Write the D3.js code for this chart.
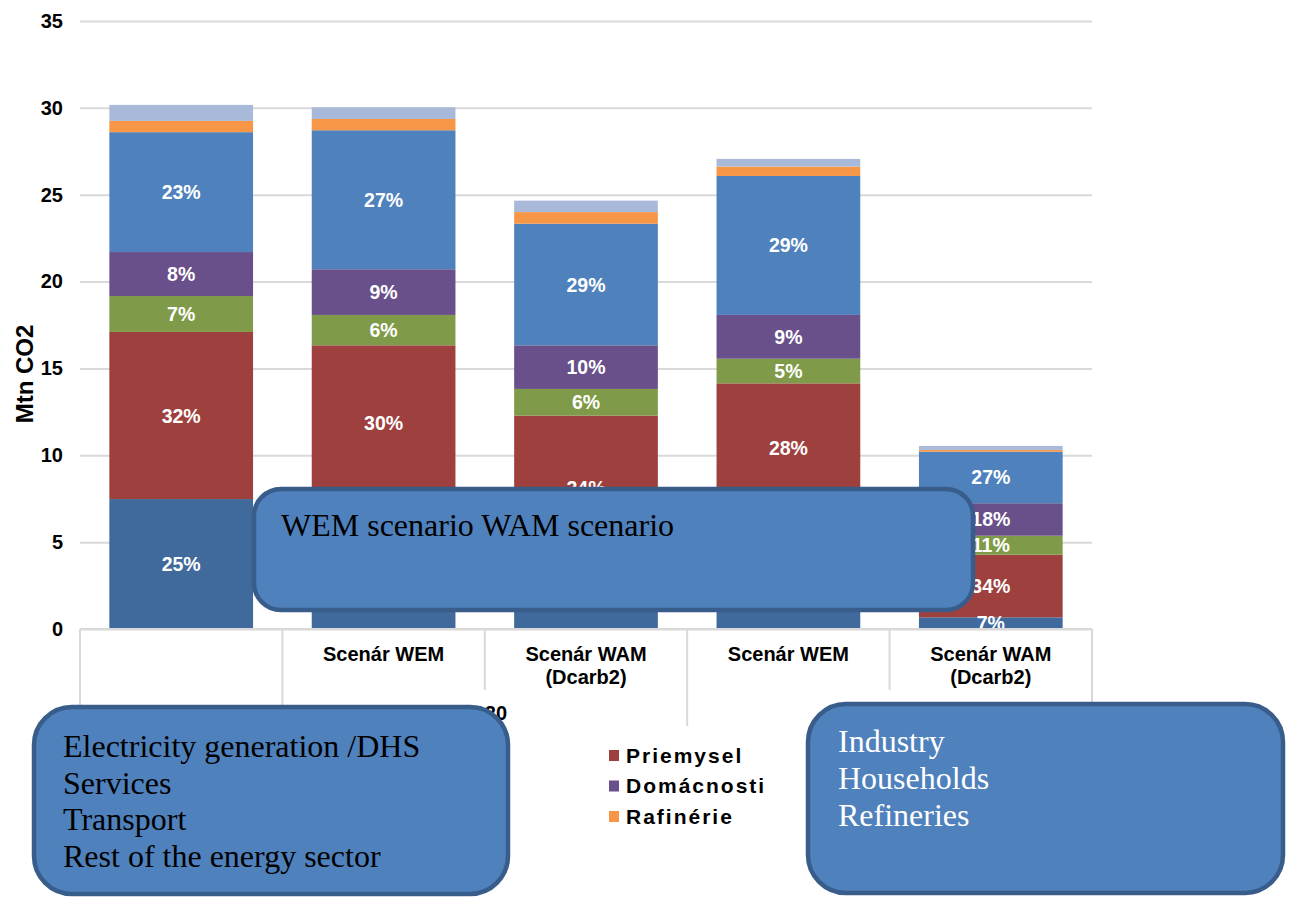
<!DOCTYPE html>
<html>
<head>
<meta charset="utf-8">
<script src="https://cdn.jsdelivr.net/npm/d3@7"></script>
<style>
  body { margin: 0; background: #fff; }
  svg { display: block; }
</style>
</head>
<body>
<div id="chart"></div>
<script>
// Categories (level 1) and year groups (level 2)
var categories = ["", "Scenár WEM", "Scenár WAM (Dcarb2)", "Scenár WEM", "Scenár WAM (Dcarb2)"];
var categoryLines = [[""], ["Scenár WEM"], ["Scenár WAM", "(Dcarb2)"], ["Scenár WEM"], ["Scenár WAM", "(Dcarb2)"]];
var groupLabels = ["2010", "2020", "2030"];
var groupFirst = [0, 1, 3];
var groupLast = [0, 2, 4];

var yTicks = [0, 5, 10, 15, 20, 25, 30, 35];

// Series, stacked bottom to top (Mtn CO2)
var seriesNames = ["Výroba elektriny a tepla", "Priemysel", "Služby", "Domácnosti", "Doprava", "Rafinérie", "Ostatná energetika"];
var elektrina  = [7.48, 7.39, 4.00, 6.66, 0.67];
var priemysel  = [9.62, 8.94, 8.28, 7.48, 3.61];
var sluzby     = [2.07, 1.75, 1.54, 1.42, 1.09];
var domacnosti = [2.53, 2.63, 2.51, 2.52, 1.87];
var doprava    = [6.90, 8.00, 7.00, 8.00, 2.97];
var rafinerie  = [0.65, 0.65, 0.67, 0.54, 0.10];
var ostatne    = [0.92, 0.67, 0.66, 0.44, 0.23];

// Share labels as printed on the bars (null = no label)
var elektrinaLbl  = ["25%", "25%", "16%", "25%", "7%"];
var priemyselLbl  = ["32%", "30%", "24%", "28%", "34%"];
var sluzbyLbl     = ["7%", "6%", "6%", "5%", "11%"];
var domacnostiLbl = ["8%", "9%", "10%", "9%", "18%"];
var dopravaLbl    = ["23%", "27%", "29%", "29%", "27%"];

// legend entries that are visible (the other column lies under the text box)
var legendShown = [1, 3, 5];

// Overlay text boxes
var boxTop = ["WEM scenario WAM scenario"];
var boxLeft = ["Electricity generation /DHS", "Services", "Transport", "Rest of the energy sector"];
var boxRight = ["Industry", "Households", "Refineries"];

(function () {
    var seriesValues = [elektrina, priemysel, sluzby, domacnosti, doprava, rafinerie, ostatne];
    var seriesLabels = [elektrinaLbl, priemyselLbl, sluzbyLbl, domacnostiLbl, dopravaLbl, null, null];
    var colors = ["#40699C", "#9E403E", "#7F9A48", "#69508A", "#4F81BD", "#F79646", "#A8B9D9"];

    var W = 1291, H = 898;
    var pLeft = 80, pRight = 1092, pTop = 21, pBottom = 629;
    var sans = "'Liberation Sans', Arial, sans-serif";
    var serif = "'Liberation Serif', 'Times New Roman', serif";

    var svg = d3.select("#chart").append("svg")
        .attr("width", W)
        .attr("height", H);

    var x = d3.scaleBand()
        .domain(d3.range(categories.length))
        .range([pLeft, pRight])
        .paddingInner(0.29)
        .paddingOuter(0.145);

    var y = d3.scaleLinear()
        .domain([0, 35])
        .range([pBottom, pTop]);

    // y axis with gridlines
    var yAxis = svg.append("g")
        .attr("transform", "translate(" + pLeft + ",0)")
        .call(d3.axisLeft(y).tickValues(yTicks).tickSizeInner(-(pRight - pLeft)).tickSizeOuter(0).tickPadding(17));
    yAxis.select(".domain").remove();
    yAxis.selectAll("line").attr("stroke", "#D9D9D9").attr("stroke-width", 2);
    yAxis.selectAll("text")
        .attr("font-family", sans)
        .attr("font-size", "20px")
        .attr("font-weight", "bold")
        .attr("fill", "#000");

    svg.append("text")
        .attr("transform", "translate(33,374) rotate(-90)")
        .attr("text-anchor", "middle")
        .attr("font-family", sans)
        .attr("font-size", "24px")
        .attr("font-weight", "bold")
        .text("Mtn CO2");

    // stacked bars
    var rows = categories.map(function (c, i) {
        var r = { i: i };
        seriesValues.forEach(function (s, k) { r[k] = s[i]; });
        return r;
    });
    var layers = d3.stack().keys(d3.range(seriesValues.length))(rows);

    svg.append("clipPath").attr("id", "plotclip")
        .append("rect")
        .attr("x", pLeft).attr("y", 0)
        .attr("width", pRight - pLeft).attr("height", pBottom);

    var plot = svg.append("g").attr("clip-path", "url(#plotclip)");

    var layerG = plot.selectAll("g.layer").data(layers).enter().append("g")
        .attr("class", "layer")
        .attr("fill", function (d, k) { return colors[k]; });

    layerG.selectAll("rect").data(function (d) { return d; }).enter().append("rect")
        .attr("x", function (d) { return x(d.data.i); })
        .attr("width", x.bandwidth())
        .attr("y", function (d) { return y(d[1]); })
        .attr("height", function (d) { return y(d[0]) - y(d[1]); });

    layers.forEach(function (layer, k) {
        var lbl = seriesLabels[k];
        if (!lbl) return;
        plot.append("g").selectAll("text").data(layer).enter().append("text")
            .attr("x", function (d) { return x(d.data.i) + x.bandwidth() / 2; })
            .attr("y", function (d) { return (y(d[0]) + y(d[1])) / 2; })
            .attr("dy", "0.36em")
            .attr("text-anchor", "middle")
            .attr("font-family", sans)
            .attr("font-size", "19.5px")
            .attr("font-weight", "bold")
            .attr("fill", "#fff")
            .text(function (d) { return lbl[d.data.i]; });
    });

    // multi-level category axis
    var axisG = svg.append("g").attr("stroke", "#D9D9D9").attr("stroke-width", 2);
    axisG.append("line").attr("x1", pLeft).attr("x2", pRight).attr("y1", pBottom).attr("y2", pBottom);
    var step = x.step();
    d3.range(categories.length + 1).forEach(function (b) {
        var bx = pLeft + b * step;
        var isGroupEdge = groupFirst.indexOf(b) >= 0 || b === categories.length;
        axisG.append("line")
            .attr("x1", bx).attr("x2", bx)
            .attr("y1", pBottom).attr("y2", isGroupEdge ? 726 : 690);
    });

    categoryLines.forEach(function (lines, i) {
        lines.forEach(function (ln, j) {
            svg.append("text")
                .attr("x", x(i) + x.bandwidth() / 2)
                .attr("y", 661 + j * 23)
                .attr("text-anchor", "middle")
                .attr("font-family", sans)
                .attr("font-size", "20px")
                .attr("font-weight", "bold")
                .text(ln);
        });
    });

    groupLabels.forEach(function (g, k) {
        var gx = (x(groupFirst[k]) + x(groupLast[k]) + x.bandwidth()) / 2;
        svg.append("text")
            .attr("x", gx)
            .attr("y", 720)
            .attr("text-anchor", "middle")
            .attr("font-family", sans)
            .attr("font-size", "20px")
            .attr("font-weight", "bold")
            .text(g);
    });

    // legend (right column)
    var legend = svg.append("g");
    legendShown.forEach(function (k, row) {
        var lx = 609;
        var ly = 755 + row * 30.5;
        legend.append("rect")
            .attr("x", lx).attr("y", ly - 5)
            .attr("width", 10).attr("height", 11)
            .attr("fill", colors[k]);
        legend.append("text")
            .attr("x", lx + 17).attr("y", ly)
            .attr("dy", "0.36em")
            .attr("font-family", sans)
            .attr("font-size", "21px")
            .attr("font-weight", "bold")
            .attr("letter-spacing", "2px")
            .text(seriesNames[k]);
    });

    // overlay text boxes
    function textBox(bx, by, bw, bh, r, lines, tx, ty, lh, color) {
        var g = svg.append("g");
        g.append("rect")
            .attr("x", bx).attr("y", by)
            .attr("width", bw).attr("height", bh)
            .attr("rx", r).attr("ry", r)
            .attr("fill", "#4F81BD")
            .attr("stroke", "#385D8A")
            .attr("stroke-width", 4.5);
        g.selectAll("text").data(lines).enter().append("text")
            .attr("x", tx)
            .attr("y", function (d, j) { return ty + j * lh; })
            .attr("font-family", serif)
            .attr("font-size", "32px")
            .attr("fill", color)
            .text(function (d) { return d; });
    }

    textBox(254, 489, 719, 121, 27, boxTop, 281, 536, 37, "#000");
    textBox(34, 707, 474, 187, 38, boxLeft, 63, 757, 36.7, "#000");
    textBox(808, 704, 475, 189, 38, boxRight, 838, 752, 37, "#fff");
})();
</script>
</body>
</html>
